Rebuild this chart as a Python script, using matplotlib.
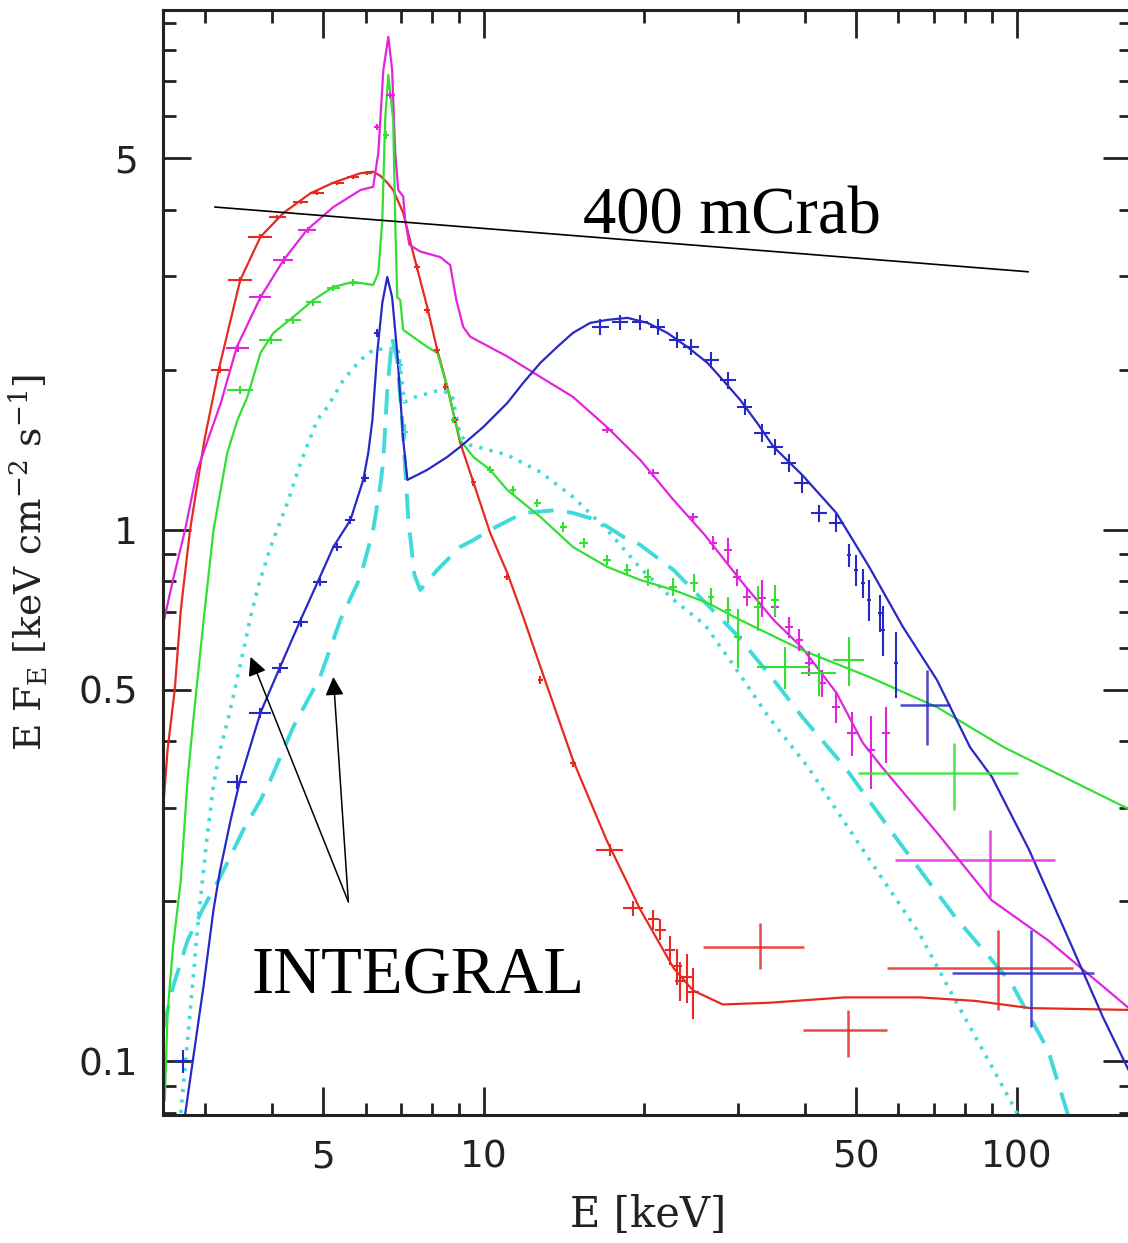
import matplotlib
matplotlib.use("Agg")
import matplotlib.pyplot as plt
from matplotlib.ticker import FixedLocator, FuncFormatter, NullFormatter
import numpy as np

# ---- model curves (E [keV], E F_E) ----
red_model_e = [2.50, 2.55, 2.63, 2.70, 2.81, 2.99, 3.18, 3.49, 3.81, 4.21,
               4.73, 5.22, 5.87, 6.20, 6.39, 6.59, 6.76, 7.06, 7.37, 7.83,
               8.18, 8.54, 9.03, 9.56, 10.28, 11.07, 11.86, 12.77, 14.7, 17.0,
               19.67, 22.7, 24.7, 28.1, 34.5, 47.6, 65.9, 83.6, 106, 164]
red_model_f = [0.297, 0.386, 0.50, 0.707, 1.0, 1.476, 2.0, 2.95, 3.56, 3.95,
               4.30, 4.50, 4.69, 4.72, 4.64, 4.50, 4.36, 3.95, 3.32, 2.63,
               2.18, 1.86, 1.46, 1.23, 0.987, 0.83, 0.686, 0.553, 0.369, 0.261,
               0.193, 0.150, 0.136, 0.128, 0.129, 0.132, 0.132, 0.130, 0.126, 0.125]

magenta_model_e = [2.50, 2.61, 2.75, 2.90, 3.21, 3.44, 3.81, 4.21, 4.66, 5.22,
                   5.87, 6.20, 6.34, 6.48, 6.62, 6.73, 6.82, 6.91, 7.06, 7.12,
                   7.25, 7.60, 8.29, 8.65, 8.88, 9.15, 9.43, 11.07, 12.77, 14.7,
                   17.05, 19.67, 22.7, 26.0, 30.3, 35.0, 39.6, 45.9, 51.5, 55.9,
                   71.0, 89.8, 114.6, 164]
magenta_model_f = [0.663, 0.805, 1.0, 1.297, 1.734, 2.21, 2.74, 3.22, 3.67, 4.05,
                   4.36, 4.42, 5.12, 7.34, 8.47, 7.34, 5.12, 4.36, 4.24, 3.83,
                   3.44, 3.34, 3.26, 3.15, 2.71, 2.41, 2.31, 2.12, 1.94, 1.78,
                   1.56, 1.354, 1.139, 0.978, 0.805, 0.677, 0.60, 0.494, 0.397, 0.358,
                   0.269, 0.201, 0.169, 0.125]

green_model_e = [2.52, 2.55, 2.61, 2.70, 2.78, 2.85, 2.98, 3.11, 3.30, 3.45,
                 3.60, 3.81, 4.03, 4.39, 4.79, 5.22, 5.69, 6.20, 6.34, 6.45,
                 6.53, 6.62, 6.76, 6.82, 6.88, 6.97, 7.06, 7.19, 7.83, 8.18,
                 8.54, 8.77, 9.03, 9.56, 10.28, 11.07, 12.77, 14.7, 17.05, 19.67,
                 22.7, 26.3, 30.3, 39.6, 52.9, 70.9, 94.7, 164]
green_model_f = [0.0847, 0.1234, 0.164, 0.2195, 0.339, 0.439, 0.677, 1.0, 1.396, 1.611,
                 1.779, 2.153, 2.348, 2.516, 2.708, 2.866, 2.928, 2.89, 3.045, 3.83,
                 5.91, 7.18, 5.91, 3.83, 2.74, 2.708, 2.379, 2.348, 2.21, 2.153,
                 1.86, 1.66, 1.476, 1.372, 1.297, 1.189, 1.058, 0.929, 0.852, 0.805,
                 0.771, 0.729, 0.677, 0.594, 0.529, 0.464, 0.390, 0.297]

blue_model_e = [2.75, 2.84, 2.98, 3.11, 3.20, 3.35, 3.49, 3.81, 4.10, 4.53,
                4.87, 5.22, 5.62, 5.94, 6.07, 6.18, 6.31, 6.45, 6.59, 6.73,
                6.88, 7.06, 7.19, 7.83, 8.54, 9.03, 9.98, 11.07, 11.86, 12.77,
                13.74, 14.7, 15.84, 17.05, 18.6, 20.3, 22.1, 24.1, 26.3, 28.1,
                30.3, 32.6, 35.0, 39.6, 45.9, 52.9, 61.2, 70.9, 81.8, 89.9,
                105.6, 123.8, 145.3, 164]
blue_model_f = [0.0793, 0.0994, 0.139, 0.193, 0.229, 0.285, 0.339, 0.453, 0.538, 0.677,
                0.795, 0.929, 1.044, 1.242, 1.396, 1.611, 2.153, 2.673, 2.992, 2.74,
                2.153, 1.476, 1.242, 1.297, 1.372, 1.433, 1.562, 1.733, 1.891, 2.062,
                2.21, 2.348, 2.452, 2.484, 2.506, 2.452, 2.348, 2.21, 2.062, 1.915,
                1.756, 1.589, 1.433, 1.269, 1.076, 0.852, 0.657, 0.522, 0.390, 0.343,
                0.25, 0.1745, 0.1211, 0.0943]

cyan_dot_e = [2.70, 2.81, 2.92, 3.02, 3.11, 3.20, 3.32, 3.43, 3.54, 3.65,
              3.78, 3.98, 4.28, 4.53, 4.87, 5.09, 5.45, 5.87, 6.20, 6.9,
              7.1, 7.44, 8.29, 8.72, 9.03, 9.43, 11.07, 12.77, 14.7, 17.05,
              19.67, 22.7, 26.0, 29.6, 34.2, 40.6, 51.5, 65.6, 76.7, 89.9,
              100.7]
cyan_dot_f = [0.080, 0.1234, 0.190, 0.261, 0.331, 0.386, 0.445, 0.515, 0.594, 0.686,
              0.788, 0.929, 1.124, 1.337, 1.611, 1.704, 1.915, 2.088, 2.182, 2.20,
              1.74, 1.779, 1.834, 1.795, 1.509, 1.445, 1.384, 1.285, 1.154, 1.0,
              0.848, 0.739, 0.663, 0.552, 0.4455, 0.358, 0.25, 0.1745, 0.1305, 0.0977,
              0.0793]

cyan_dash_e = [2.50, 2.61, 2.78, 2.98, 3.20, 3.54, 3.81, 3.98, 4.39, 4.93,
               5.38, 5.87, 6.20, 6.39, 6.48, 6.59, 6.73, 6.88, 7.03, 7.22,
               7.41, 7.60, 8.18, 9.03, 9.56, 10.28, 11.86, 13.74, 14.7, 16.3,
               18.3, 19.67, 22.7, 29.6, 34.2, 39.6, 47.6, 60.4, 76.7, 97.7,
               114.6, 124.9]
cyan_dash_f = [0.1146, 0.138, 0.169, 0.195, 0.222, 0.273, 0.310, 0.339, 0.426, 0.529,
               0.677, 0.816, 1.0, 1.205, 1.354, 1.834, 2.297, 2.088, 1.611, 1.044,
               0.823, 0.771, 0.841, 0.929, 0.957, 1.0, 1.076, 1.09, 1.076, 1.044,
               0.97, 0.937, 0.841, 0.640, 0.538, 0.445, 0.358, 0.2575, 0.187, 0.1406,
               0.105, 0.0793]

# ---- data points (E, dE, F, dF) ----
red_e = [3.20, 3.49, 3.81, 4.10, 4.53, 4.87, 5.31, 5.69, 6.05, 7.50, 7.83, 8.18, 8.47, 8.84,
         9.56, 11.07, 12.77, 14.7, 17.27, 19.08, 20.8, 21.44, 22.4, 23.07, 23.37, 24.1, 24.7]
red_de = [0.12, 0.18, 0.2, 0.15, 0.15, 0.15, 0.15, 0.15, 0.12, 0.1, 0.1, 0.1, 0.1, 0.1,
          0.1, 0.15, 0.15, 0.2, 1.0, 0.8, 0.5, 0.5, 0.5, 0.5, 0.5, 0.6, 0.6]
red_f = [2.0, 2.95, 3.56, 3.88, 4.14, 4.31, 4.50, 4.62, 4.70, 3.13, 2.59, 2.18, 1.86, 1.61,
         1.23, 0.816, 0.522, 0.364, 0.25, 0.194, 0.185, 0.177, 0.162, 0.151, 0.142, 0.144, 0.135]
red_df = [0.03, 0.04, 0.04, 0.04, 0.04, 0.04, 0.04, 0.04, 0.04, 0.04, 0.03, 0.03, 0.03, 0.02,
          0.02, 0.012, 0.008, 0.006, 0.006, 0.006, 0.008, 0.008, 0.01, 0.012, 0.012, 0.015, 0.015]

magenta_e = [3.45, 3.81, 4.21, 4.67, 6.31, 6.68, 17.05, 20.8, 24.7, 26.96, 28.76, 29.9, 31.2,
             33.3, 35.2, 37.4, 39.1, 40.8, 43.2, 45.9, 49.1, 53.3, 56.9]
magenta_de = [0.17, 0.18, 0.18, 0.18, 0.08, 0.12, 0.4, 0.5, 0.5, 0.5, 0.5, 0.5, 0.5,
              0.6, 0.6, 0.6, 0.6, 0.7, 0.7, 0.8, 1.0, 1.0, 1.0]
magenta_f = [2.20, 2.74, 3.22, 3.67, 5.73, 6.58, 1.54, 1.28, 1.058, 0.945, 0.917, 0.816, 0.748,
             0.745, 0.716, 0.657, 0.621, 0.562, 0.515, 0.464, 0.415, 0.386, 0.415]
magenta_df = [0.04, 0.04, 0.05, 0.05, 0.08, 0.08, 0.02, 0.02, 0.02, 0.03, 0.05, 0.03, 0.03,
              0.06, 0.03, 0.03, 0.03, 0.03, 0.03, 0.03, 0.04, 0.06, 0.05]

green_e = [3.49, 3.98, 4.39, 4.79, 5.22, 5.69, 6.56, 8.77, 10.28, 11.36, 12.6, 14.1, 15.4,
           17.05, 18.6, 20.3, 22.7, 24.8, 26.7, 28.76, 30.0, 32.7, 35.2, 36.8, 42.6, 48.5]
green_de = [0.2, 0.2, 0.15, 0.15, 0.15, 0.15, 0.08, 0.1, 0.15, 0.15, 0.2, 0.2, 0.3,
            0.3, 0.3, 0.3, 0.4, 0.4, 0.4, 0.4, 0.5, 0.5, 0.6, 4.2, 3.2, 3.2]
green_f = [1.834, 2.278, 2.484, 2.68, 2.85, 2.92, 5.54, 1.611, 1.297, 1.189, 1.124, 1.013, 0.945,
           0.878, 0.841, 0.816, 0.781, 0.795, 0.748, 0.707, 0.629, 0.716, 0.739, 0.552, 0.538, 0.569]
green_df = [0.03, 0.04, 0.04, 0.04, 0.04, 0.04, 0.1, 0.02, 0.02, 0.02, 0.02, 0.02, 0.02,
            0.02, 0.02, 0.03, 0.03, 0.03, 0.03, 0.04, 0.08, 0.07, 0.05, 0.05, 0.05, 0.06]

blue_e = [2.73, 3.44, 3.81, 4.15, 4.53, 4.93, 5.31, 5.62, 5.99, 6.31, 16.55, 18.04, 19.67,
          21.2, 23.07, 24.5, 26.7, 28.76, 30.9, 33.3, 35.2, 37.4, 39.6, 42.6, 45.9, 48.5,
          50.0, 51.5, 52.9, 55.4, 56.2, 59.4]
blue_de = [0.12, 0.15, 0.18, 0.15, 0.15, 0.15, 0.12, 0.12, 0.1, 0.08, 0.6, 0.6, 0.7,
           0.7, 0.8, 0.8, 0.9, 1.0, 1.0, 1.1, 1.2, 1.2, 1.3, 1.4, 1.5, 0.4,
           0.4, 0.4, 0.4, 0.5, 0.5, 0.6]
blue_f = [0.1, 0.336, 0.453, 0.550, 0.671, 0.798, 0.929, 1.044, 1.253, 2.348, 2.41, 2.46, 2.46,
          2.41, 2.278, 2.21, 2.088, 1.915, 1.704, 1.522, 1.433, 1.337, 1.226, 1.076, 1.031, 0.897,
          0.841, 0.795, 0.739, 0.698, 0.648, 0.562]
blue_df = [0.005, 0.01, 0.01, 0.012, 0.015, 0.015, 0.015, 0.02, 0.02, 0.04, 0.08, 0.08, 0.08,
           0.08, 0.08, 0.08, 0.07, 0.07, 0.06, 0.06, 0.05, 0.05, 0.05, 0.04, 0.04, 0.045,
           0.055, 0.05, 0.065, 0.055, 0.07, 0.08]

cyan_e = [6.97, 7.12]
cyan_de = [0.08, 0.08]
cyan_f = [2.04, 1.53]
cyan_df = [0.06, 0.05]

# ---- INTEGRAL bins (E, E_lo, E_hi, F, F_lo, F_hi) ----
red_big = dict(e=[33.0, 48.3, 92.3], elo=[25.8, 39.8, 57.1], ehi=[39.9, 57.1, 127.6],
               f=[0.164, 0.1146, 0.150], flo=[0.149, 0.102, 0.125], fhi=[0.182, 0.125, 0.177])
magenta_big = dict(e=[89.2], elo=[59.2], ehi=[118.1], f=[0.239], flo=[0.204], fhi=[0.273])
green_big = dict(e=[76.3], elo=[50.4], ehi=[100.7], f=[0.349], flo=[0.297], fhi=[0.397])
blue_big = dict(e=[67.9, 106.5], elo=[60.4, 75.7], ehi=[75.0, 139.8],
                f=[0.469, 0.1467], flo=[0.394, 0.116], fhi=[0.545, 0.177])

crab_e = [3.13, 105.1]
crab_f = [4.05, 3.06]

RED = "#e62a22"
MAGENTA = "#e224de"
GREEN = "#32e032"
BLUE = "#2828c4"
CYAN = "#40dada"
AXC = "#222222"

plt.rcParams["mathtext.fontset"] = "dejavuserif"

fig = plt.figure(figsize=(11.28, 12.43), dpi=100)
ax = fig.add_axes([163 / 1128, 128 / 1243, 968 / 1128, 1105 / 1243])
ax.set_xscale("log")
ax.set_yscale("log")
ax.set_xlim(2.5, 164)
ax.set_ylim(0.0793, 9.51)

ax.plot(cyan_dot_e, cyan_dot_f, color=CYAN, lw=2.6, ls=(0, (0.9, 2.0)))
ax.plot(cyan_dash_e, cyan_dash_f, color=CYAN, lw=2.8, ls=(0, (6.5, 3.5)))

for e, f, c in [(red_model_e, red_model_f, RED),
                (magenta_model_e, magenta_model_f, MAGENTA),
                (green_model_e, green_model_f, GREEN),
                (blue_model_e, blue_model_f, BLUE)]:
    ax.plot(e, f, color=c, lw=1.6)

for e, de, f, df, c in [(red_e, red_de, red_f, red_df, RED),
                        (magenta_e, magenta_de, magenta_f, magenta_df, MAGENTA),
                        (green_e, green_de, green_f, green_df, GREEN),
                        (blue_e, blue_de, blue_f, blue_df, BLUE),
                        (cyan_e, cyan_de, cyan_f, cyan_df, CYAN)]:
    ax.errorbar(e, f, xerr=de, yerr=df, fmt="none", ecolor=c, elinewidth=1.5, capsize=0)

for d, c in [(red_big, RED), (magenta_big, MAGENTA), (green_big, GREEN), (blue_big, BLUE)]:
    e = np.array(d["e"])
    f = np.array(d["f"])
    xerr = [e - np.array(d["elo"]), np.array(d["ehi"]) - e]
    yerr = [f - np.array(d["flo"]), np.array(d["fhi"]) - f]
    ax.errorbar(e, f, xerr=xerr, yerr=yerr, fmt="none", ecolor=c, elinewidth=1.8,
                capsize=0, alpha=0.85)

ax.plot(crab_e, crab_f, color="black", lw=1.2)

# arrows to the model components
for head in [(3.65, 0.577), (5.22, 0.529)]:
    ax.annotate("", xy=head, xytext=(5.57, 0.1996),
                arrowprops=dict(arrowstyle="-|>", color="black", lw=1.1,
                                mutation_scale=28, shrinkA=0, shrinkB=0))

fig.text(583 / 1128, 1 - 233 / 1243, "400 mCrab", family="Liberation Serif",
         fontsize=48, ha="left", va="baseline")
fig.text(252 / 1128, 1 - 993 / 1243, "INTEGRAL", family="Liberation Serif",
         fontsize=48, ha="left", va="baseline")

# axes styling
ax.xaxis.set_major_locator(FixedLocator([5, 10, 50, 100]))
ax.xaxis.set_minor_locator(FixedLocator([3, 4, 6, 7, 8, 9, 20, 30, 40, 60, 70, 80, 90]))
ax.yaxis.set_major_locator(FixedLocator([0.1, 0.5, 1, 5]))
ax.yaxis.set_minor_locator(FixedLocator([0.08, 0.09, 0.2, 0.3, 0.4, 0.6, 0.7, 0.8, 0.9,
                                         2, 3, 4, 6, 7, 8, 9]))
fmt = FuncFormatter(lambda v, p: f"{v:g}")
ax.xaxis.set_major_formatter(fmt)
ax.yaxis.set_major_formatter(fmt)
ax.xaxis.set_minor_formatter(NullFormatter())
ax.yaxis.set_minor_formatter(NullFormatter())

ax.tick_params(which="both", direction="in", top=True, right=True, color=AXC,
               width=2.0, labelsize=27, labelcolor=AXC, pad=18)
ax.tick_params(which="major", length=20)
ax.tick_params(which="minor", length=9)
for s in ax.spines.values():
    s.set_linewidth(2.2)
    s.set_color(AXC)

fig.text(648 / 1128, 1 - 1215 / 1243, "E [keV]", family="DejaVu Serif",
         fontsize=30, color=AXC, ha="center", va="center")
fig.text(50 / 1128, 1 - 562 / 1243, r"E F$_{\rm E}$ [keV cm$^{-2}$ s$^{-1}$]",
         family="DejaVu Serif", fontsize=27, color=AXC, rotation=90,
         ha="right", va="center")

fig.savefig("out.png", dpi=100)
